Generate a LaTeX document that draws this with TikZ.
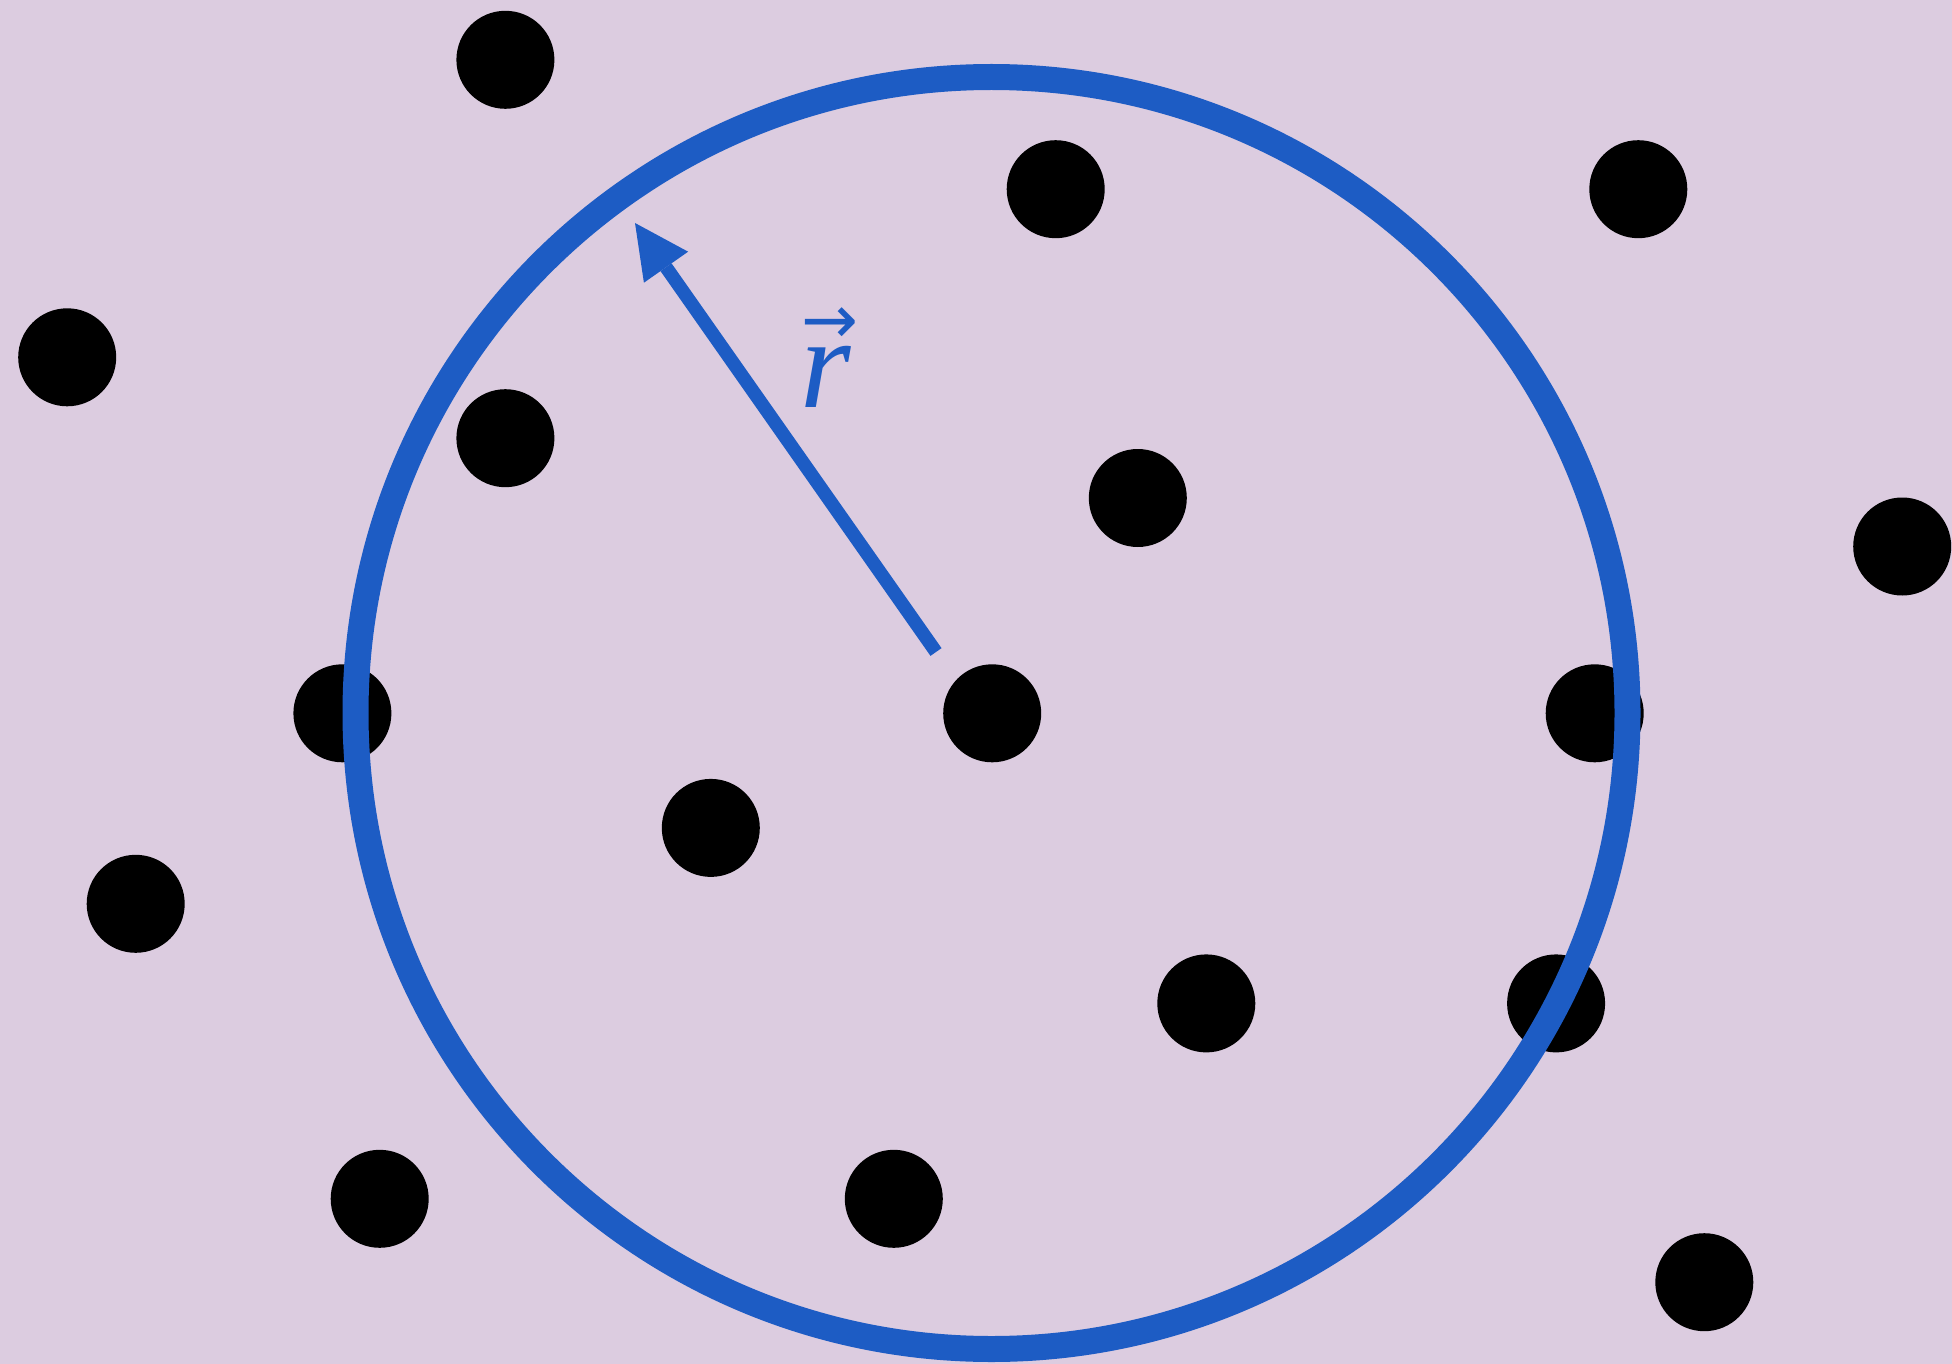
\documentclass[tikz,border=0pt]{standalone}
\usepackage{fontspec}
\setmainfont{Liberation Serif}
\newfontfamily\arrowfont{DejaVu Sans}
\usetikzlibrary{arrows.meta}
\definecolor{bgc}{RGB}{220,204,224}
\definecolor{bluec}{RGB}{29,92,196}
\begin{document}
\begin{tikzpicture}[x=1pt,y=-1pt,
  dot/.style={circle,fill=black,minimum size=98pt,inner sep=0pt},
  ring/.style={circle,draw=bluec,line width=26pt,minimum size=1272pt,inner sep=0pt},
  vecarrow/.style={draw=bluec,line width=13.5pt,-{Triangle[length=54pt,width=54pt,line width=0pt]}},
  lbl/.style={text=bluec,inner sep=0pt}]
\fill[bgc] (0,0) rectangle (1952,1364);
\useasboundingbox (0,0) rectangle (1952,1364);
\node[dot] (d1) at (505.4,59.8) {};
\node[dot] (d2) at (1055.7,189.2) {};
\node[dot] (d3) at (1638.3,189.2) {};
\node[dot] (d4) at (67.2,357.3) {};
\node[dot] (d5) at (505.4,438.2) {};
\node[dot] (d6) at (1137.8,498) {};
\node[dot] (d7) at (1902.2,546.5) {};
\node[dot] (d8) at (342.4,713.3) {};
\node[dot] (d9) at (992.2,713.3) {};
\node[dot] (d10) at (1594.7,713.3) {};
\node[dot] (d11) at (710.8,827.9) {};
\node[dot] (d12) at (135.7,903.8) {};
\node[dot] (d13) at (1206.3,1003.4) {};
\node[dot] (d14) at (1556.1,1003.4) {};
\node[dot] (d15) at (379.7,1198.8) {};
\node[dot] (d16) at (893.8,1198.8) {};
\node[dot] (d17) at (1704.3,1282.2) {};
\node[ring] (ring) at (991.5,713) {};
\coordinate (tail) at (936,652);
\coordinate (tip) at (635,223);
\draw[vecarrow] (tail) -- (tip);
\node[lbl,anchor=base] (rvec) at (826,407)
  {\vbox{\offinterlineskip
    \hbox to 60pt{\hss\kern8pt\smash{\fontsize{68}{68}\selectfont\arrowfont →}\hss}%
    \kern64pt
    \hbox to 60pt{\hss\smash{\fontsize{130}{130}\selectfont\itshape r}\hss}}};
\end{tikzpicture}
\end{document}
